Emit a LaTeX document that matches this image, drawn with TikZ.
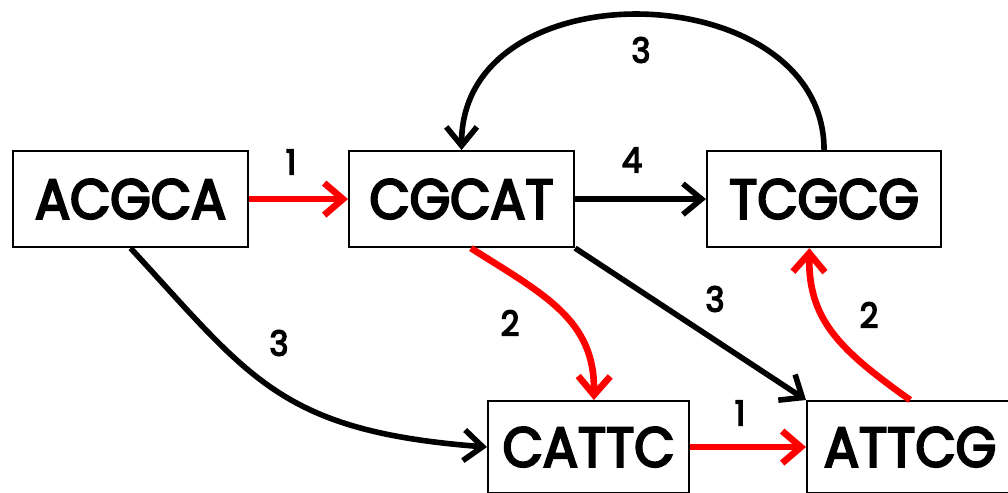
\documentclass[tikz,border=0pt]{standalone}
\usepackage{fontspec}
\setmainfont{Poppins}
\newfontfamily\seqfont{Poppins}[FakeBold=4, FakeStretch=0.93]
\usetikzlibrary{arrows.meta}

\tikzset{
  seqbox/.style={draw, line width=1.6pt, inner sep=0pt, anchor=north west,
    font=\fontsize{42}{42}\seqfont},
  wlabel/.style={inner sep=0pt, font=\fontsize{26}{26}\seqfont},
  blkedge/.style={line width=4.2pt, black,
    -{Straight Barb[length=14pt, width=23pt, line width=4.2pt]}},
  rededge/.style={line width=5pt, red,
    -{Straight Barb[length=14pt, width=24pt, line width=5pt]}},
}

\begin{document}
\begin{tikzpicture}[x=0.75pt, y=-0.75pt]
\useasboundingbox (0,0) rectangle (1008,493);
\clip (0,0) rectangle (1008,493);

% sequence boxes
\node[seqbox, minimum width=176.25pt, minimum height=72pt] (acgca) at (12,150)  {ACGCA};
\node[seqbox, minimum width=168.75pt, minimum height=72pt] (cgcat) at (348,150) {CGCAT};
\node[seqbox, minimum width=175.5pt,  minimum height=72pt] (tcgcg) at (706,150) {TCGCG};
\node[seqbox, minimum width=150.75pt, minimum height=69pt] (cattc) at (487,400) {CATTC};
\node[seqbox, minimum width=154.5pt,  minimum height=69pt] (attcg) at (806,400) {ATTCG};

% overlap edges
\draw[rededge] (acgca.east) -- (cgcat.west);
\draw[blkedge] (cgcat.east) -- (tcgcg.west);
\draw[blkedge] (tcgcg.north) .. controls +(0,-175) and +(0,-185) .. (cgcat.north);
\draw[blkedge] (cgcat.south east) -- (attcg.north west);
\draw[blkedge] (acgca.south) .. controls +(120,130) and +(-207,-16) .. (cattc.west);
\draw[rededge] ([xshift=7pt]cgcat.south) .. controls (545,295) and (595,320) .. ([xshift=4pt]cattc.north);
\draw[rededge] (cattc.east) -- (attcg.west);
\draw[rededge] (attcg.north) .. controls (840,350) and (808,320) .. ([xshift=-11pt]tcgcg.south);

% edge weights
\node[wlabel] (w1) at (291,162) {1};
\node[wlabel] (w2) at (632,160) {4};
\node[wlabel] (w3) at (641,50)  {3};
\node[wlabel] (w4) at (510,323) {2};
\node[wlabel] (w5) at (715,299) {3};
\node[wlabel] (w6) at (279,343) {3};
\node[wlabel] (w7) at (740,413) {1};
\node[wlabel] (w8) at (869,315) {2};
\end{tikzpicture}
\end{document}
